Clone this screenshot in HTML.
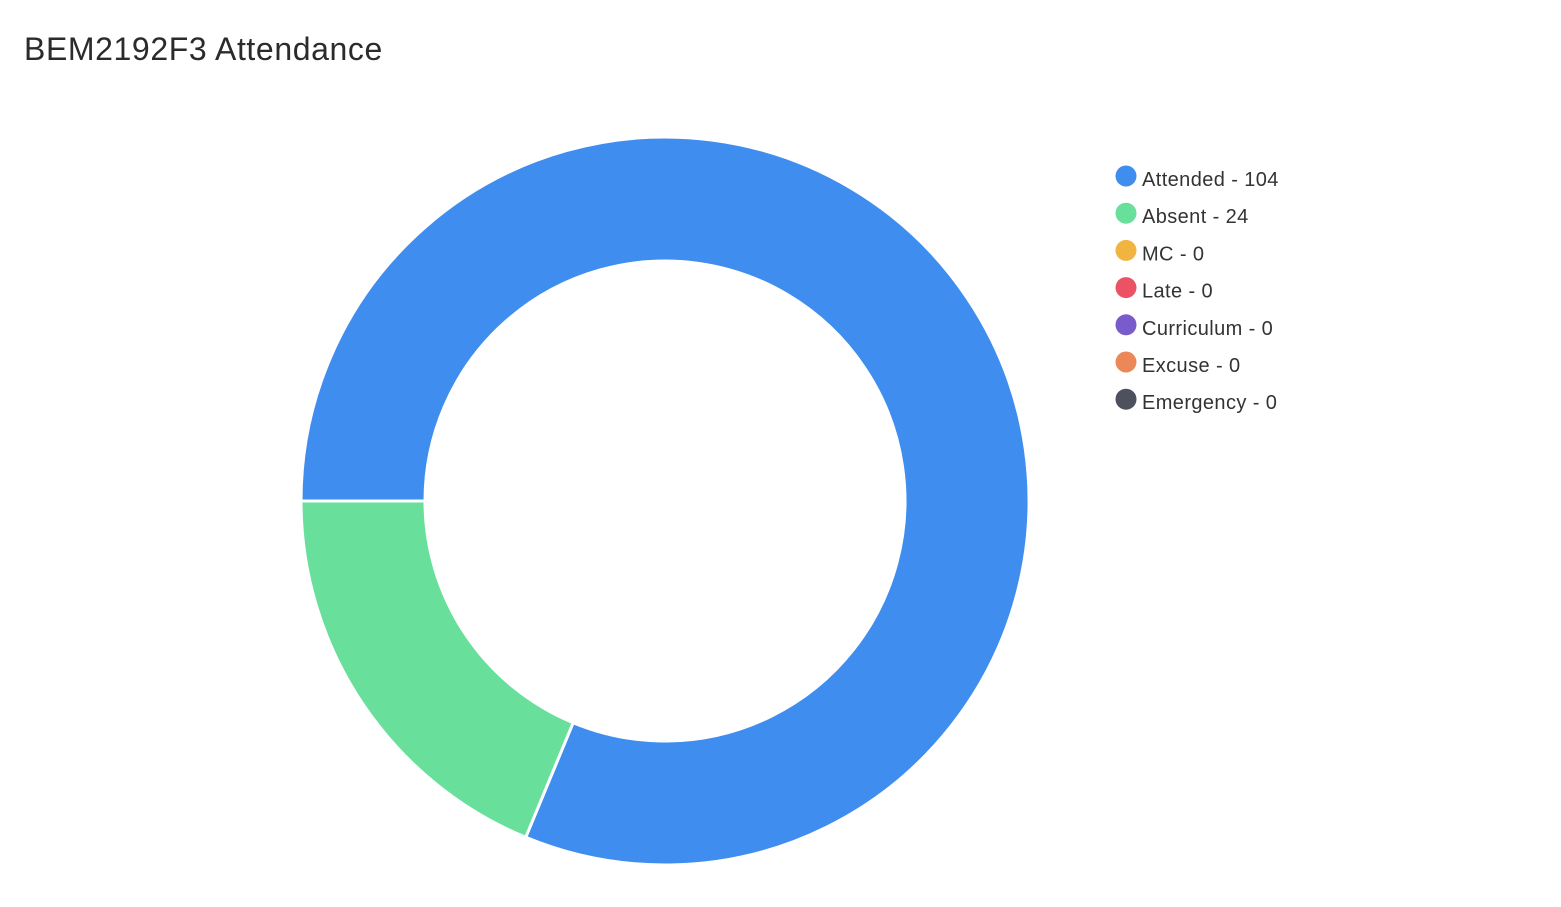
<!DOCTYPE html>
<html><head><meta charset="utf-8"><style>
html,body{margin:0;padding:0;background:#fff;width:1561px;height:907px;overflow:hidden}
svg{display:block}
</style></head><body>
<svg id="chart" width="1561" height="907">
<text x="24" y="60" font-family="'Liberation Sans',sans-serif" font-size="32" letter-spacing="0.6" fill="#2b2b2b">BEM2192F3 Attendance</text>
<g id="slices"></g>
<g id="legend"></g>
</svg>
<script>
const categories = ["Attended","Absent","MC","Late","Curriculum","Excuse","Emergency"];
const values = [104,24,0,0,0,0,0];
const colors = ["#3f8def","#68df9b","#f2b441","#eb5365","#7a5bcc","#ec8858","#4d515e"];
const NS="http://www.w3.org/2000/svg";
const cx=665, cy=501, R=364, r=240;
const total=values.reduce((a,b)=>a+b,0);
let ang=270;
function pt(a,rad){const t=(a-90)*Math.PI/180;return [cx+rad*Math.cos(t),cy+rad*Math.sin(t)];}
const sg=document.getElementById('slices');
values.forEach((v,i)=>{
  if(v<=0)return;
  const span=v/total*360, a0=ang, a1=ang+span; ang=a1;
  const large=span>180?1:0;
  const [x0,y0]=pt(a0,R),[x1,y1]=pt(a1,R),[x2,y2]=pt(a1,r),[x3,y3]=pt(a0,r);
  const p=document.createElementNS(NS,'path');
  p.setAttribute('d',`M${x0},${y0}A${R},${R} 0 ${large} 1 ${x1},${y1}L${x2},${y2}A${r},${r} 0 ${large} 0 ${x3},${y3}Z`);
  p.setAttribute('fill',colors[i]);p.setAttribute('stroke','#fff');p.setAttribute('stroke-width','3');
  
  
  sg.appendChild(p);
});
const lg=document.getElementById('legend');
categories.forEach((c,i)=>{
  const y=176+i*37.2;
  const g=document.createElementNS(NS,'g');
  
  
  const ci=document.createElementNS(NS,'circle');
  ci.setAttribute('cx',1126);ci.setAttribute('cy',y);ci.setAttribute('r',10.5);ci.setAttribute('fill',colors[i]);
  const t=document.createElementNS(NS,'text');
  t.setAttribute('x',1142);t.setAttribute('y',y+10);
  t.setAttribute('font-family',"'Liberation Sans',sans-serif");t.setAttribute('font-size','20');t.setAttribute('letter-spacing','0.4');t.setAttribute('fill','#333');
  t.textContent=c+' - '+values[i];
  g.appendChild(ci);g.appendChild(t);lg.appendChild(g);
});
</script>
</body></html>
